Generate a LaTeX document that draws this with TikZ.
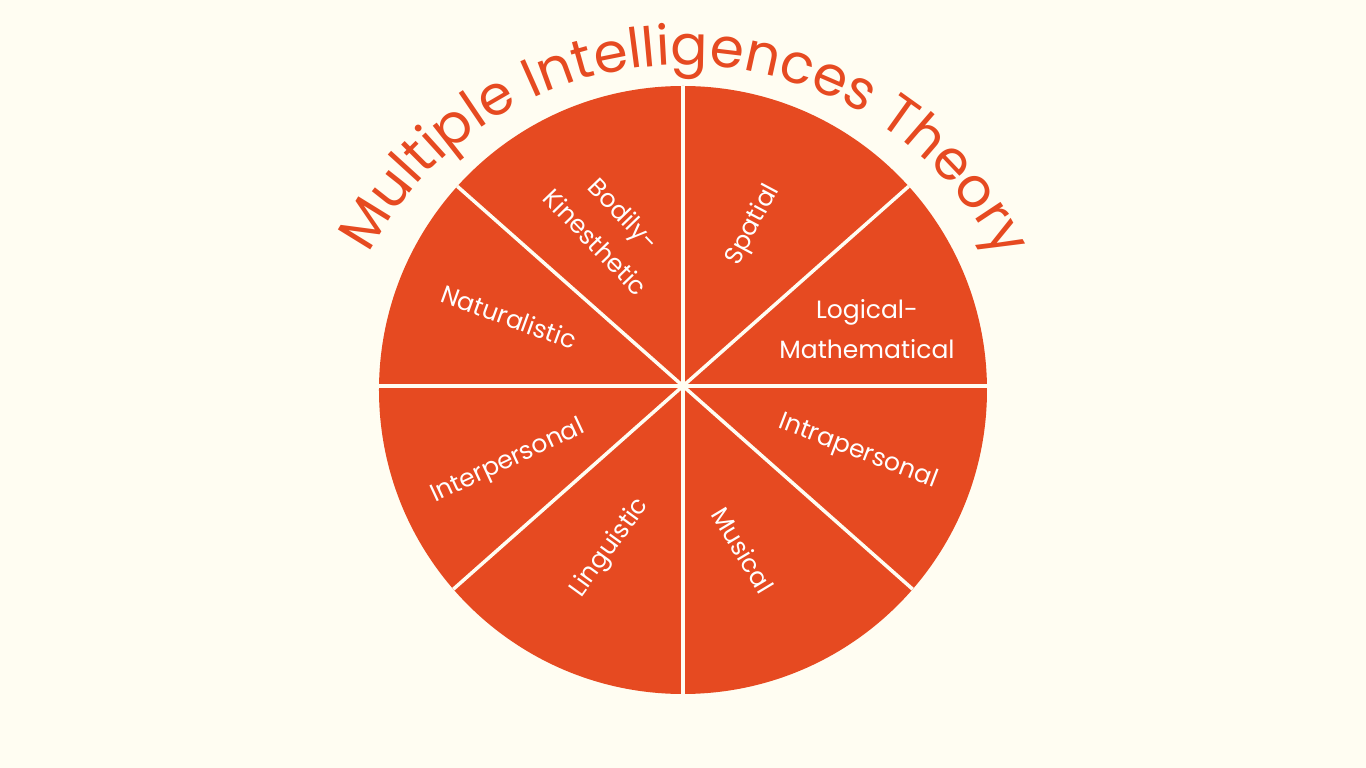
\documentclass[tikz,border=0pt]{standalone}
\usepackage{fontspec}
\setmainfont{Poppins}
\usepackage{xcolor}
\usetikzlibrary{decorations.text}
\definecolor{mitorange}{HTML}{E64A21}
\definecolor{mitcream}{HTML}{FFFDF2}
\newcommand\mititlefont{\fontsize{55}{60}\selectfont\color{mitorange}}

\begin{document}
\begin{tikzpicture}[
    x=1pt, y=1pt,
    seglabel/.style={text=white, font=\fontsize{25}{40}\selectfont, align=center, inner sep=0pt},
    spoke/.style={draw=mitcream, line width=3.5pt},
]

% --- Canvas
\fill[mitcream] (-683,-382) rectangle (683,386);
\useasboundingbox (-683,-382) rectangle (683,386);

% --- Wheel and spokes
\coordinate (hub) at (0,0);
\coordinate (wheelc) at (0,-4);
\fill[mitorange] (wheelc) circle[radius=304];
\begin{scope}
  \clip (wheelc) circle[radius=304];
  \foreach \ang in {0, 41.5, 90, 138.5, 180, 221.5, 270, 318.5}
    \draw[spoke] (hub) -- ++(\ang:340);
\end{scope}

% --- Curved title
\path[decorate, decoration={text along path, text align=center,
    text={|\mititlefont|Multiple Intelligences Theory}}]
  (0,-34) ++(152:355) arc[start angle=152, end angle=27, radius=355];

% --- Segment labels
\node[seglabel, rotate=-46] (bodily)  at (-73,158)  {Bodily-\\Kinesthetic};
\node[seglabel, rotate=62]  (spatial) at (70,161)   {Spatial};
\node[seglabel]             (logical) at (184,57)   {Logical-\\Mathematical};
\node[seglabel, rotate=-20] (natural) at (-174,69)  {Naturalistic};
\node[seglabel, rotate=-21] (intra)   at (175,-66)  {Intrapersonal};
\node[seglabel, rotate=25]  (inter)   at (-175,-76) {Interpersonal};
\node[seglabel, rotate=54]  (ling)    at (-73,-162) {Linguistic};
\node[seglabel, rotate=-59] (music)   at (60,-164)  {Musical};

\end{tikzpicture}
\end{document}
